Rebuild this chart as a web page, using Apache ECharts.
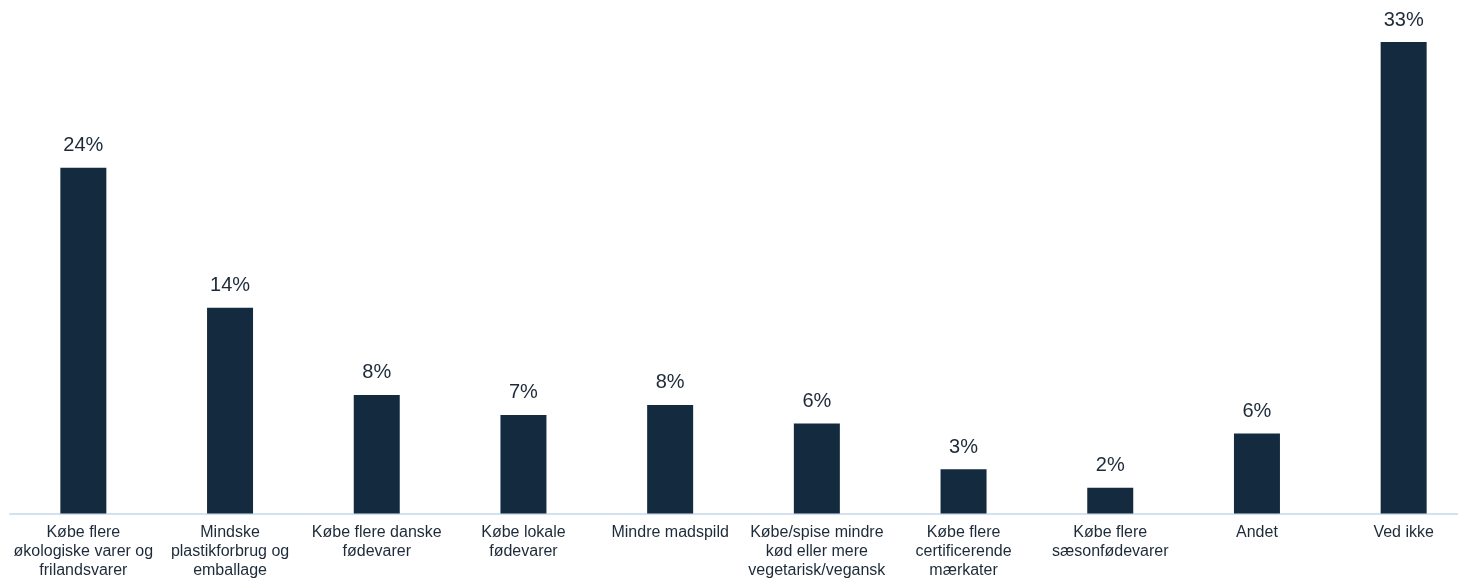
<!DOCTYPE html>
<html>
<head>
<meta charset="utf-8">
<script src="https://cdn.jsdelivr.net/npm/echarts@6/dist/echarts.min.js"></script>
<style>
  html, body { margin: 0; padding: 0; background: #ffffff; overflow: hidden; }
  #chart { width: 1458px; height: 580px; }
</style>
</head>
<body>
<div id="chart"></div>
<script>
// Answer categories (line breaks as shown under each bar)
const categories = [
  'Købe flere\nøkologiske varer og\nfrilandsvarer',
  'Mindske\nplastikforbrug og\nemballage',
  'Købe flere danske\nfødevarer',
  'Købe lokale\nfødevarer',
  'Mindre madspild',
  'Købe/spise mindre\nkød eller mere\nvegetarisk/vegansk',
  'Købe flere\ncertificerende\nmærkater',
  'Købe flere\nsæsonfødevarer',
  'Andet',
  'Ved ikke'
];

// Share of respondents, in percent (labels show the rounded value)
const shares = [24.2, 14.4, 8.3, 6.9, 7.6, 6.3, 3.1, 1.8, 5.6, 33.0];

const textColor = '#1d2a39';
const barColor = '#142a3e';

const chart = echarts.init(document.getElementById('chart'), null, { renderer: 'canvas' });

chart.setOption({
  animation: false,
  backgroundColor: '#ffffff',
  // plot area runs slightly past the right edge of the canvas
  grid: {
    left: 10, width: 1467, top: 0, bottom: 66.5,
    containLabel: false,
    outerBoundsMode: 'none'
  },
  xAxis: {
    type: 'category',
    data: categories,
    axisLine: { show: true, lineStyle: { color: '#d3e2f1', width: 2 } },
    axisTick: { show: false },
    axisLabel: {
      interval: 0,
      margin: 10,
      color: textColor,
      fontFamily: 'Liberation Sans, Arial, sans-serif',
      fontSize: 16,
      lineHeight: 19,
      align: 'center'
    }
  },
  yAxis: {
    type: 'value',
    min: 0,
    max: 35.94,
    show: false,
    splitLine: { show: false }
  },
  series: [{
    type: 'bar',
    data: shares,
    barWidth: 46,
    itemStyle: { color: barColor },
    label: {
      show: true,
      position: 'top',
      distance: 12,
      color: textColor,
      fontFamily: 'Liberation Sans, Arial, sans-serif',
      fontSize: 20,
      formatter: p => Math.round(p.value) + '%'
    }
  }]
});
</script>
</body>
</html>
